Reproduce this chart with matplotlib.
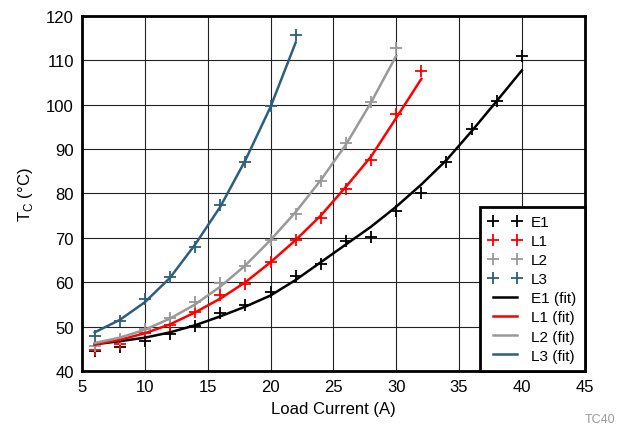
import numpy as np
import matplotlib
matplotlib.use("Agg")
import matplotlib.pyplot as plt

plt.rcParams["font.family"] = ["Liberation Sans", "DejaVu Sans"]

# measured points (load current in A, case temperature in degC)
x_e1 = [6, 8, 10, 12, 14, 16, 18, 20, 22, 24, 26, 28, 30, 32, 34, 36, 38, 40]
e1 = [44.5, 45.3, 46.7, 48.3, 50.2, 53.0, 54.9, 57.7, 61.3, 64.1, 69.2, 70.1,
      76.0, 80.1, 87.0, 94.4, 100.7, 110.9]
x_l1 = [6, 8, 10, 12, 14, 16, 18, 20, 22, 24, 26, 28, 30, 32]
l1 = [44.7, 46.0, 48.5, 50.4, 53.2, 57.0, 59.6, 64.6, 69.4, 74.5, 81.0, 87.6,
      97.9, 107.5]
x_l2 = [6, 8, 10, 12, 14, 16, 18, 20, 22, 24, 26, 28, 30]
l2 = [45.7, 47.2, 49.5, 51.9, 55.5, 59.7, 63.7, 69.4, 75.4, 82.7, 91.4, 100.5,
      112.7]
x_l3 = [6, 8, 10, 12, 14, 16, 18, 20, 22]
l3 = [47.9, 51.3, 56.1, 61.1, 68.0, 77.4, 87.0, 99.6, 115.6]

# fitted curves
e1_fit = [46.0, 46.7, 47.5, 48.7, 50.3, 52.3, 54.5, 57.0, 60.5, 64.5, 68.5,
          72.5, 77.0, 82.0, 87.5, 94.0, 100.8, 107.7]
l1_fit = [46.0, 47.0, 48.5, 50.5, 53.2, 56.3, 60.0, 64.5, 69.5, 75.0, 81.5,
          88.3, 97.0, 105.8]
l2_fit = [46.3, 47.5, 49.3, 51.8, 55.0, 59.0, 63.8, 69.5, 75.8, 83.0, 91.0,
          100.5, 111.0]
l3_fit = [48.7, 51.5, 55.5, 61.0, 68.5, 77.0, 87.5, 99.5, 114.0]

c_e1, c_l1, c_l2, c_l3 = "black", "#ff0000", "#999999", "#2c5f7c"

fig = plt.figure(figsize=(6.22, 4.31), dpi=100)
ax = fig.add_axes([0.132, 0.137, 0.808, 0.824])

mk = dict(marker="+", linestyle="none", markersize=9, markeredgewidth=1.3)
ax.plot(x_e1, e1, color=c_e1, label="E1", **mk)
ax.plot(x_l1, l1, color=c_l1, label="L1", **mk)
ax.plot(x_l2, l2, color=c_l2, label="L2", **mk)
ax.plot(x_l3, l3, color=c_l3, label="L3", **mk)

ax.plot(x_e1, e1_fit, color=c_e1, lw=1.8, label="E1 (fit)")
ax.plot(x_l1, l1_fit, color=c_l1, lw=1.8, label="L1 (fit)")
ax.plot(x_l2, l2_fit, color=c_l2, lw=1.8, label="L2 (fit)")
ax.plot(x_l3, l3_fit, color=c_l3, lw=1.8, label="L3 (fit)")

ax.set_xlim(5, 45)
ax.set_ylim(40, 120)
ax.set_xticks(np.arange(5, 46, 5))
ax.set_yticks(np.arange(40, 121, 10))
ax.grid(True, color="#222222", linewidth=0.8)
ax.set_axisbelow(True)
ax.tick_params(length=0, labelsize=12, pad=6)
for s in ax.spines.values():
    s.set_linewidth(2)

ax.set_xlabel("Load Current (A)", fontsize=12, labelpad=5)
ax.set_ylabel("T$_\\mathregular{C}$ (°C)", fontsize=12, labelpad=8)

leg = ax.legend(loc="lower right", numpoints=2, fontsize=11, frameon=True,
                fancybox=False, borderaxespad=0, labelspacing=0.33,
                handlelength=2.2, handletextpad=0.6, borderpad=0.55,
                edgecolor="black", framealpha=1)
leg.get_frame().set_linewidth(2)

fig.text(0.99, 0.012, "TC40", color="#999999", fontsize=9, ha="right", va="bottom")

fig.savefig("out.png", dpi=100)
